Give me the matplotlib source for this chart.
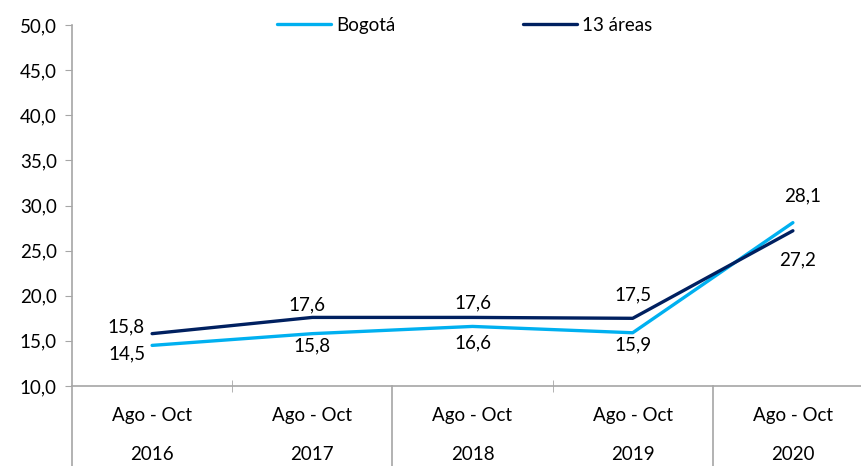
import matplotlib.pyplot as plt
from matplotlib.transforms import blended_transform_factory

periods = ["Ago - Oct"] * 5
years = ["2016", "2017", "2018", "2019", "2020"]
bogota = [14.5, 15.8, 16.6, 15.9, 28.1]
areas13 = [15.8, 17.6, 17.6, 17.5, 27.2]

# label offsets in pixels (dx, dy), one per point
bogota_off = [(-25, -8), (0, -12), (0, -16), (0, -12), (10, 27)]
areas_off = [(-26, 7), (-5, 13), (0, 15), (0, 23), (5, -29)]

plt.rcParams['font.family'] = ['Lato', 'DejaVu Sans']

c_bog = '#00B0F0'
c_13 = '#002060'
grey = '#A6A6A6'
fs = 13.5

fig = plt.figure(figsize=(8.62, 4.66), dpi=100)
ax = fig.add_axes([72 / 862, 80 / 466, 801 / 862, 361 / 466])

x = list(range(len(years)))
ax.plot(x, bogota, color=c_bog, lw=2.4, label='Bogotá', solid_capstyle='round')
ax.plot(x, areas13, color=c_13, lw=2.4, label='13 áreas', solid_capstyle='round')

px = 72 / 100
for i in x:
    dx, dy = bogota_off[i]
    ax.annotate(f'{bogota[i]:.1f}'.replace('.', ','), (i, bogota[i]),
                xytext=(dx * px, dy * px), textcoords='offset points',
                ha='center', va='center', fontsize=fs, color='black')
    dx, dy = areas_off[i]
    ax.annotate(f'{areas13[i]:.1f}'.replace('.', ','), (i, areas13[i]),
                xytext=(dx * px, dy * px), textcoords='offset points',
                ha='center', va='center', fontsize=fs, color='black')

ax.set_xlim(-0.5, 4.5)
ax.set_ylim(10, 50)
ax.set_yticks(range(10, 51, 5))
ax.set_yticklabels([f'{v:.1f}'.replace('.', ',') for v in range(10, 51, 5)], fontsize=fs)
ax.tick_params(axis='y', length=5, color=grey, pad=6)

ax.set_xticks([])
ax.set_xticks([0.5, 2.5], minor=True)
ax.tick_params(axis='x', which='minor', direction='inout', length=8, color=grey, labelbottom=False)

for s in ['top', 'right']:
    ax.spines[s].set_visible(False)
for s in ['left', 'bottom']:
    ax.spines[s].set_color(grey)
    ax.spines[s].set_linewidth(1.2)

# two-level category labels and group separators
tr = blended_transform_factory(ax.transData, ax.transAxes)
for i in x:
    ax.text(i, -29 / 361, periods[i], transform=tr, ha='center', va='center', fontsize=fs)
    ax.text(i, -69 / 361, years[i], transform=tr, ha='center', va='center', fontsize=fs)
for sx in [-0.5, 1.5, 3.5]:
    ax.plot([sx, sx], [0, -85 / 361], transform=tr, color=grey, lw=1.2, clip_on=False)

ax.legend(loc='upper center', bbox_to_anchor=(393 / 801, 1.07), ncol=2, frameon=False,
          fontsize=fs, handlelength=2.85, handletextpad=0.3, columnspacing=6.8)

fig.savefig('out.png', dpi=100, facecolor='white')
